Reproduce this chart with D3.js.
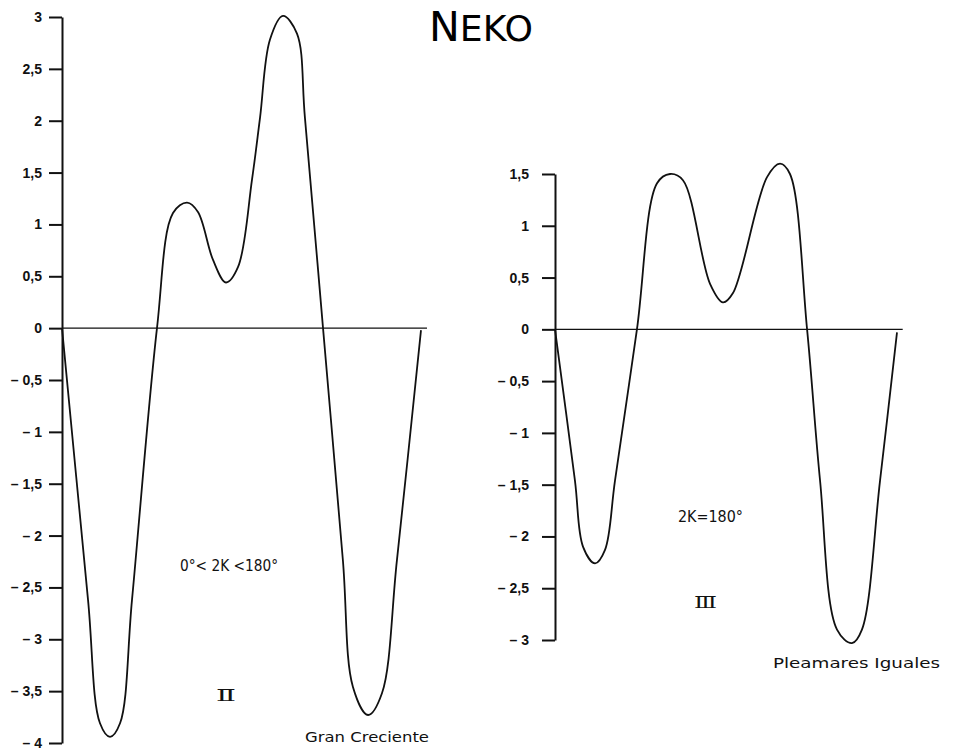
<!DOCTYPE html>
<html>
<head>
<meta charset="utf-8">
<script src="https://cdn.jsdelivr.net/npm/d3@7"></script>
<style>
    body { margin: 0; background: #fff; }
    svg { display: block; font-family: "Liberation Sans", Arial, sans-serif; }
    .tick text { font-family: "Liberation Sans", Arial, sans-serif; font-size: 14px; font-weight: bold; fill: #111; }
    .tick line, .domain { stroke: #111; stroke-width: 2; }
</style>
</head>
<body>
<svg id="chart" width="955" height="756"></svg>
<script>
// curva II (0° < 2K < 180°) - horas / altura
var horasII = [0, 1.74, 2.54, 3.21, 3.88, 4.68, 6.35, 7.42, 8.36, 9.09, 10.09, 10.96, 11.77,
    12.70, 13.24, 13.90, 14.77, 15.71, 16.24, 17.45, 18.78, 19.45, 20.46, 21.39, 22.39, 24];
var alturasII = [0, -2.62, -3.81, -3.94, -3.81, -2.62, 0, 1.11, 1.21, 1.12, 0.66, 0.44, 0.59,
    1.43, 2.03, 2.78, 3.01, 2.84, 2.03, 0, -2.24, -3.46, -3.73, -3.52, -2.24, -0.02];

// curva III (2K = 180°)
var horasIII = [0, 1.40, 1.97, 2.81, 3.51, 4.21, 5.75, 7.16, 8.07, 8.98, 10.88, 11.79, 12.49,
    14.88, 15.79, 16.49, 17.69, 18.60, 19.79, 20.84, 21.54, 22.81, 24];
var alturasIII = [0, -1.46, -2.10, -2.26, -2.13, -1.46, 0, 1.41, 1.50, 1.44, 0.44, 0.26, 0.35,
    1.47, 1.60, 1.50, 0, -1.46, -2.90, -3.03, -2.90, -1.46, -0.03];

var ticksII = [3, 2.5, 2, 1.5, 1, 0.5, 0, -0.5, -1, -1.5, -2, -2.5, -3, -3.5, -4];
var ticksIII = [1.5, 1, 0.5, 0, -0.5, -1, -1.5, -2, -2.5, -3];

var titulo = "NEKO";
var textosII = ["0°< 2K <180°", "Ⅱ", "Gran Creciente"];
var textosIII = ["2K=180°", "Ⅲ", "Pleamares Iguales"];

var svg = d3.select("#chart");

function fmt(v) {
    var s = String(Math.abs(v)).replace(".", ",");
    return v < 0 ? "– " + s : s;
}

//dibuja un panel
function drawPanel(horas, alturas, ticks, xr, yr, pad) {
    var x = d3.scaleLinear().domain([0, 24]).range(xr);
    var y = d3.scaleLinear().domain([ticks[ticks.length - 1], ticks[0]]).range(yr);
    var g = svg.append("g");

    g.append("g")
        .attr("transform", "translate(" + x(0) + ",0)")
        .call(d3.axisLeft(y).tickValues(ticks).tickFormat(fmt)
            .tickSize(13).tickSizeOuter(0).tickPadding(pad));

    g.append("line")
        .attr("x1", x(0)).attr("x2", x(24.4))
        .attr("y1", y(0)).attr("y2", y(0))
        .attr("stroke", "#111").attr("stroke-width", 1.4);

    var line = d3.line()
        .x(function (d) { return x(d[0]); })
        .y(function (d) { return y(d[1]); })
        .curve(d3.curveCatmullRom.alpha(0.5));

    g.append("path")
        .datum(d3.zip(horas, alturas))
        .attr("d", line)
        .attr("fill", "none")
        .attr("stroke", "#111")
        .attr("stroke-width", 1.8);

    return {x: x, y: y, g: g};
}

var p2 = drawPanel(horasII, alturasII, ticksII, [62, 421], [743, 17], 7);
var p3 = drawPanel(horasIII, alturasIII, ticksIII, [555, 897], [640, 174], 13);

// titulo
var t = svg.append("text")
    .attr("x", 429).attr("y", 41)
    .attr("textLength", 104)
    .attr("lengthAdjust", "spacingAndGlyphs")
    .style("font-family", "'DejaVu Sans', sans-serif")
    .style("font-size", "36px");
t.append("tspan").style("font-size", "41px").text(titulo.charAt(0));
t.append("tspan").text(titulo.slice(1));

function addText(txt, px, py, size, len, fam) {
    var el = svg.append("text")
        .attr("x", px).attr("y", py)
        .style("font-size", size + "px")
        .style("font-family", fam || "'DejaVu Sans', sans-serif")
        .attr("fill", "#111")
        .text(txt);
    if (len) el.attr("textLength", len).attr("lengthAdjust", "spacingAndGlyphs");
}

addText(textosII[0], 180, 571, 15, 98);
addText(textosII[1], 216, 701, 17, 20, "'DejaVu Serif', serif");
addText(textosII[2], 305, 742, 14, 124);
addText(textosIII[0], 678, 522, 16, 65);
addText(textosIII[1], 694, 608, 17, 23, "'DejaVu Serif', serif");
addText(textosIII[2], 773, 668, 14, 167);
</script>
</body>
</html>
